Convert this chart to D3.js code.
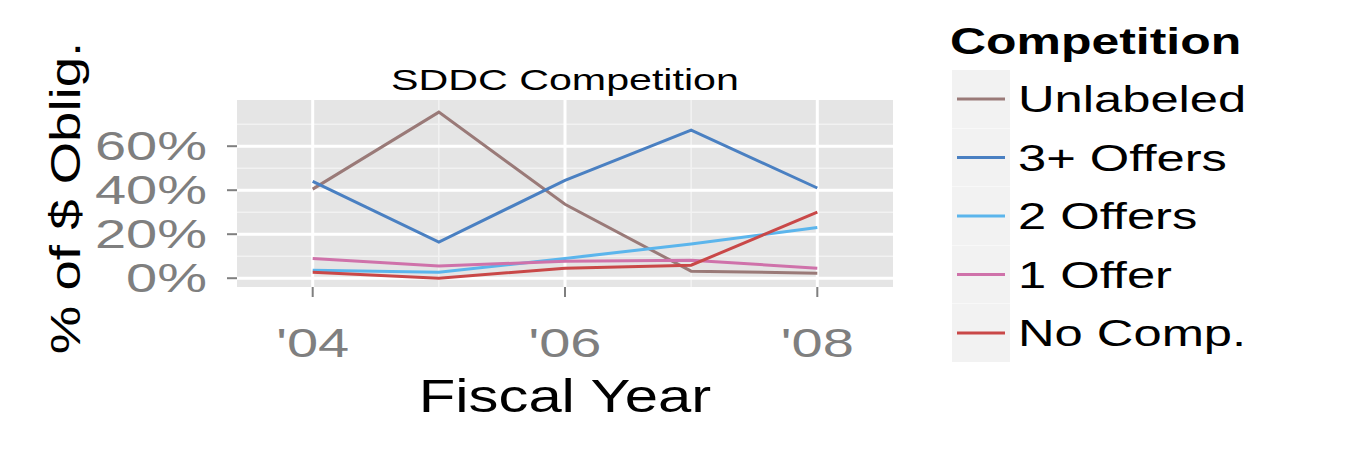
<!DOCTYPE html><html><head><meta charset="utf-8"><script src="https://cdn.jsdelivr.net/npm/d3@7"></script>
<style>body{margin:0;background:#fff}text{font-family:"Liberation Sans",Arial,sans-serif}</style></head><body>
<svg id="c" width="1350" height="450"></svg>
<script>
const years=[2004,2005,2006,2007,2008];
const seriesNames=["Unlabeled","3+ Offers","2 Offers","1 Offer","No Comp."];
const colors=["#9a7a78","#4a80c2","#5bb5ec","#cf72aa","#c94848"];
const unlabeled=[40.5,75.5,33.6,3.2,2.3];
const offers3=[44,16.4,44.5,67.3,41];
const offers2=[3.6,2.7,9,15.5,23];
const offer1=[9,5.5,7.7,8.2,4.5];
const noComp=[2.7,0,4.5,5.9,30];
const values=[unlabeled,offers3,offers2,offer1,noComp];
const yTicks=[0,20,40,60];
const xTicks=[2004,2006,2008];
const xLabels=["'04","'06","'08"];

const svg=d3.select("#c");
function txt(px,py,s,size,anchor,str,opts={}){
  const t=svg.append("text").attr("transform",`translate(${px},${py})${opts.rot?" rotate(-90)":""} scale(${s},1)`)
   .attr("text-anchor",anchor).attr("font-size",size).attr("fill",opts.fill||"#000").text(str);
  if(opts.bold)t.attr("font-weight","bold");return t;}
const L=237,R=893,T=100,B=287;
const x=d3.scaleLinear().domain([2003.4,2008.6]).range([L,R]);
const y=d3.scaleLinear().domain([-4,81]).range([B,T]);
svg.append("rect").attr("x",L).attr("y",T).attr("width",R-L).attr("height",B-T).attr("fill","#e5e5e5");
[10,30,50,70].forEach(v=>svg.append("line").attr("x1",L).attr("x2",R).attr("y1",y(v)).attr("y2",y(v)).attr("stroke","#f2f2f2").attr("stroke-width",1.5));
[2005,2007].forEach(v=>svg.append("line").attr("y1",T).attr("y2",B).attr("x1",x(v)).attr("x2",x(v)).attr("stroke","#f2f2f2").attr("stroke-width",1.5));
yTicks.forEach(v=>svg.append("line").attr("x1",L).attr("x2",R).attr("y1",y(v)).attr("y2",y(v)).attr("stroke","#fff").attr("stroke-width",3));
xTicks.forEach(v=>svg.append("line").attr("y1",T).attr("y2",B).attr("x1",x(v)).attr("x2",x(v)).attr("stroke","#fff").attr("stroke-width",3));
const line=d3.line().x((d,i)=>x(years[i])).y(d=>y(d));
values.forEach((s,k)=>svg.append("path").attr("d",line(s)).attr("fill","none").attr("stroke",colors[k]).attr("stroke-width",3));
yTicks.forEach(v=>{svg.append("line").attr("x1",L-10).attr("x2",L).attr("y1",y(v)).attr("y2",y(v)).attr("stroke","#7f7f7f").attr("stroke-width",2);
 txt(L-30,y(v)+14,1.4,40,"end",v+"%",{fill:"#7f7f7f"});});
xTicks.forEach((v,i)=>{svg.append("line").attr("y1",B).attr("y2",B+10).attr("x1",x(v)).attr("x2",x(v)).attr("stroke","#7f7f7f").attr("stroke-width",2);
 txt(x(v),B+70,1.4,40,"middle",xLabels[i],{fill:"#7f7f7f"});});
txt(565,90,1.42,29,"middle","SDDC Competition");
txt(565,412,1.3,46,"middle","Fiscal Year");
txt(80,198,1.3,42,"middle","% of $ Oblig.",{rot:true});
txt(950,54,1.35,37,"start","Competition",{bold:true});
seriesNames.forEach((n,i)=>{const yy=70+i*58.5;
 svg.append("rect").attr("x",952).attr("y",yy).attr("width",58).attr("height",58).attr("fill","#f2f2f2");
 svg.append("line").attr("x1",957).attr("x2",1005).attr("y1",yy+29).attr("y2",yy+29).attr("stroke",colors[i]).attr("stroke-width",3);
 txt(1018,yy+42,1.37,37,"start",n);});
</script></body></html>
